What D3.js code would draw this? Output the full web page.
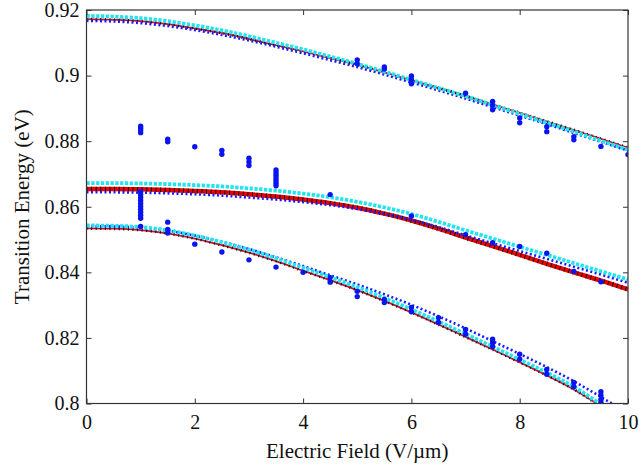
<!DOCTYPE html>
<html>
<head>
<meta charset="utf-8">
<script src="https://cdn.jsdelivr.net/npm/d3@7"></script>
<style>
  body { margin: 0; background: #fff; }
  svg { display: block; font-family: "Liberation Serif", "Times New Roman", serif; }
</style>
</head>
<body>
<svg width="639" height="467"></svg>
<script>
// electric field samples (V/um)
var field = [0, 0.5, 1, 1.5, 2, 2.5, 3, 3.5, 4, 4.5, 5, 5.5, 6, 6.5, 7, 7.5, 8, 8.5, 9, 9.5, 10];

// upper transition
var topCyan = [0.9182, 0.9180, 0.9175, 0.9166, 0.9153, 0.9138, 0.9120, 0.9100, 0.9080, 0.9058, 0.9036,
  0.9012, 0.8987, 0.8962, 0.8937, 0.8910, 0.8883, 0.8856, 0.8829, 0.8801, 0.8774];
var topRed = [0.9172, 0.9170, 0.9166, 0.9157, 0.9144, 0.9130, 0.9112, 0.9093, 0.9074, 0.9053, 0.9033,
  0.9010, 0.8986, 0.8962, 0.8938, 0.8912, 0.8886, 0.8860, 0.8834, 0.8807, 0.8780];
var topBlue = [0.9167, 0.9165, 0.9160, 0.9151, 0.9139, 0.9124, 0.9107, 0.9088, 0.9068, 0.9047, 0.9026,
  0.9003, 0.8979, 0.8955, 0.8930, 0.8904, 0.8878, 0.8852, 0.8825, 0.8798, 0.8771];

// middle transition
var midCyan = [0.8672, 0.8672, 0.8671, 0.8669, 0.8666, 0.8662, 0.8656, 0.8649, 0.8640, 0.8629, 0.8615,
  0.8598, 0.8578, 0.8554, 0.8528, 0.8503, 0.8478, 0.8453, 0.8428, 0.8403, 0.8378];
var midRed = [0.8654, 0.8654, 0.8653, 0.8651, 0.8648, 0.8644, 0.8638, 0.8631, 0.8622, 0.8611, 0.8597,
  0.8579, 0.8558, 0.8533, 0.8506, 0.8480, 0.8453, 0.8426, 0.8400, 0.8375, 0.8348];
var midBlue = [0.8644, 0.8644, 0.8643, 0.8641, 0.8638, 0.8634, 0.8628, 0.8622, 0.8614, 0.8605, 0.8593,
  0.8578, 0.8560, 0.8538, 0.8513, 0.8489, 0.8465, 0.8441, 0.8417, 0.8393, 0.8368];

// lower transition
var lowCyan = [0.8543, 0.8542, 0.8538, 0.8528, 0.8512, 0.8492, 0.8469, 0.8443, 0.8414, 0.8385, 0.8355,
  0.8322, 0.8287, 0.8250, 0.8212, 0.8173, 0.8134, 0.8094, 0.8051, 0.7998, 0.7952];
var lowRed = [0.8534, 0.8533, 0.8529, 0.8519, 0.8503, 0.8483, 0.8460, 0.8434, 0.8405, 0.8376, 0.8346,
  0.8313, 0.8278, 0.8241, 0.8203, 0.8165, 0.8126, 0.8086, 0.8043, 0.7992, 0.7944];
var lowBlue = [0.8541, 0.8540, 0.8536, 0.8527, 0.8512, 0.8493, 0.8471, 0.8446, 0.8419, 0.8391, 0.8363,
  0.8333, 0.8301, 0.8266, 0.8229, 0.8190, 0.8151, 0.8111, 0.8068, 0.8020, 0.7970];

// scattered simulation points
var scatterField = [1, 1.5, 2, 2.5, 3, 3.5, 4, 4.5, 5, 5.5, 6, 6.5, 7, 7.5, 8, 8.5, 9, 9.5, 10];
var scatterEnergy = [
  [0.8846, 0.8840, 0.8834, 0.8826, 0.8646, 0.8637, 0.8628, 0.8619, 0.8610, 0.8601, 0.8592, 0.8583, 0.8574, 0.8565, 0.8540],
  [0.8806, 0.8798, 0.8553, 0.8531, 0.8520],
  [0.8783, 0.8486],
  [0.8772, 0.8760, 0.8462],
  [0.8748, 0.8737, 0.8726, 0.8438],
  [0.8712, 0.8704, 0.8696, 0.8688, 0.8680, 0.8672, 0.8664, 0.8416],
  [0.8400],
  [0.8637, 0.8384, 0.8370],
  [0.9048, 0.9036, 0.8342, 0.8326],
  [0.9026, 0.9020, 0.8317, 0.8308],
  [0.8999, 0.8988, 0.8975, 0.8572, 0.8293, 0.8280],
  [0.8262, 0.8247],
  [0.8946, 0.8515, 0.8226, 0.8211],
  [0.8921, 0.8910, 0.8896, 0.8490, 0.8196, 0.8185, 0.8174],
  [0.8871, 0.8856, 0.8479, 0.8150, 0.8135],
  [0.8844, 0.8829, 0.8458, 0.8104, 0.8089],
  [0.8814, 0.8804, 0.8403, 0.8064, 0.8052],
  [0.8784, 0.8371, 0.8036, 0.8025, 0.8012, 0.8003],
  [0.8759]
];

var xTicks = [0, 2, 4, 6, 8, 10];
var yTicks = [0.8, 0.82, 0.84, 0.86, 0.88, 0.9, 0.92];
var yTickLabels = ['0.8', '0.82', '0.84', '0.86', '0.88', '0.9', '0.92'];

var svg = d3.select('svg');
var plotL = 86.5, plotR = 628, plotT = 10, plotB = 403.5;

var x = d3.scaleLinear().domain([0, 10]).range([plotL, plotR]);
var y = d3.scaleLinear().domain([0.8, 0.92]).range([plotB, plotT]);

svg.append('clipPath').attr('id', 'plot')
  .append('rect')
  .attr('x', plotL).attr('y', plotT)
  .attr('width', plotR - plotL).attr('height', plotB - plotT);

var g = svg.append('g').attr('clip-path', 'url(#plot)');

function drawCurve(values, color, width, dash) {
  var line = d3.line()
    .x(function(d, i) { return x(field[i]); })
    .y(function(d) { return y(d); })
    .curve(d3.curveMonotoneX);
  g.append('path')
    .datum(values)
    .attr('d', line)
    .attr('fill', 'none')
    .attr('stroke', color)
    .attr('stroke-width', width)
    .attr('stroke-dasharray', dash || null);
}

// red model lines with black dotted overlay
drawCurve(topRed, '#c8102e', 1.8);
drawCurve(topRed, '#111', 3, '1,3.6');
drawCurve(midRed, '#e60000', 4.5);
drawCurve(midRed, '#111', 4.5, '1,3.6');
drawCurve(lowRed, '#c8102e', 1.8);
drawCurve(lowRed, '#111', 3, '1,3.6');

// blue dotted curves
[topBlue, midBlue, lowBlue].forEach(function(s) {
  drawCurve(s, '#1a1aff', 2.6, '2,2.5');
});

// cyan square markers
[topCyan, midCyan, lowCyan].forEach(function(s) {
  drawCurve(s, '#22e4ee', 3.8, '3.3,1.5');
});

// scattered points
var pts = [];
scatterField.forEach(function(f, i) {
  scatterEnergy[i].forEach(function(e) { pts.push({f: f, e: e}); });
});
g.selectAll('circle.pt')
  .data(pts)
  .enter()
  .append('circle')
  .attr('class', 'pt')
  .attr('cx', d => x(d.f))
  .attr('cy', d => y(d.e))
  .attr('r', 2.7)
  .attr('fill', '#0a14f0');

// axes, ticks pointing inward on all four sides
svg.append('g')
  .attr('transform', 'translate(0,' + plotB + ')')
  .call(d3.axisBottom(x).tickValues(xTicks).tickSizeInner(-5).tickSizeOuter(0).tickPadding(11))
  .call(a => a.select('.domain').remove());
svg.append('g')
  .attr('transform', 'translate(0,' + plotT + ')')
  .call(d3.axisTop(x).tickValues(xTicks).tickSizeInner(-5).tickSizeOuter(0).tickFormat(''))
  .call(a => a.select('.domain').remove());
svg.append('g')
  .attr('transform', 'translate(' + plotL + ',0)')
  .call(d3.axisLeft(y).tickValues(yTicks).tickSizeInner(-5).tickSizeOuter(0).tickPadding(7)
    .tickFormat((d, i) => yTickLabels[i]))
  .call(a => a.select('.domain').remove());
svg.append('g')
  .attr('transform', 'translate(' + plotR + ',0)')
  .call(d3.axisRight(y).tickValues(yTicks).tickSizeInner(-5).tickSizeOuter(0).tickFormat(''))
  .call(a => a.select('.domain').remove());

svg.selectAll('.tick line').attr('stroke', '#333');
svg.selectAll('.tick text')
  .attr('fill', '#111')
  .style('font-size', '20px')
  .style('font-family', '"Liberation Serif", "Times New Roman", serif');

svg.append('rect')
  .attr('x', plotL).attr('y', plotT)
  .attr('width', plotR - plotL).attr('height', plotB - plotT)
  .attr('fill', 'none')
  .attr('stroke', '#333')
  .attr('stroke-width', 1.2);

svg.append('text')
  .attr('x', (plotL + plotR) / 2)
  .attr('y', 458)
  .attr('text-anchor', 'middle')
  .attr('font-size', '21px')
  .attr('fill', '#111')
  .text('Electric Field (V/\u00b5m)');

svg.append('text')
  .attr('transform', 'translate(29,' + (plotT + plotB) / 2 + ') rotate(-90)')
  .attr('text-anchor', 'middle')
  .attr('font-size', '21px')
  .attr('fill', '#111')
  .text('Transition Energy (eV)');
</script>
</body>
</html>
